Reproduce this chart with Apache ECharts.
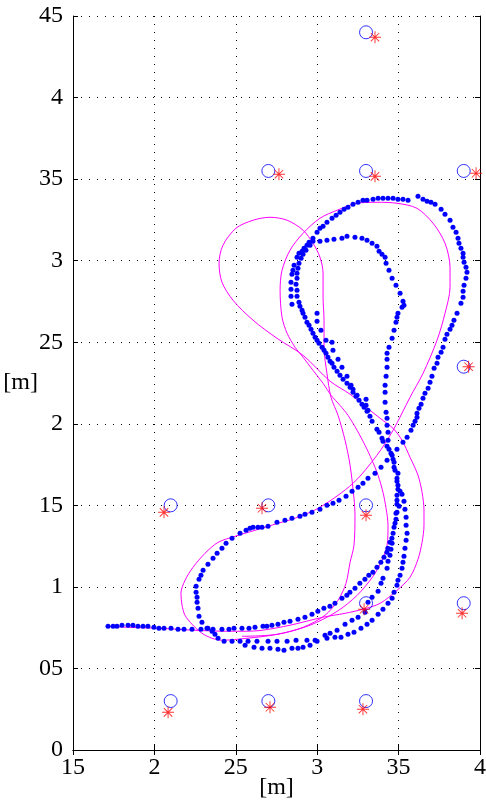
<!DOCTYPE html>
<html><head><meta charset="utf-8">
<script src="https://cdn.jsdelivr.net/npm/echarts/dist/echarts.min.js"></script>
<style>html,body{margin:0;padding:0;background:#fff}#c{width:486px;height:801px}</style>
</head><body><div id="c"></div>
<script>
const xTickLabels = ['15','2','25','3','35','4'];
const yTickLabels = ['0','05','1','15','2','25','3','35','4','45'];

// blue open circles (anchors)
const anchors = [[3.3,4.4],[2.7,3.55],[3.3,3.55],[3.9,3.55],[3.9,2.35],[2.1,1.5],[2.7,1.5],[3.3,1.5],[3.3,0.9],[3.9,0.9],[2.1,0.3],[2.7,0.3],[3.3,0.3]];
// red asterisks (estimates)
const estimates = [[3.355,4.37],[2.765,3.53],[3.355,3.517],[3.976,3.536],[3.93,2.35],[2.059,1.457],[2.661,1.482],[3.30,1.439],[3.288,0.863],[3.89,0.838],[2.084,0.231],[2.71,0.262],[3.281,0.25]];

// measured trajectory (blue dots)
const tailDots = [[1.715,0.758],[1.746,0.758],[1.770,0.758],[1.801,0.765],[1.838,0.765],[1.868,0.765],[1.899,0.758],[1.930,0.758],[1.960,0.758],[1.997,0.752],[2.028,0.746],[2.059,0.746],[2.102,0.746],[2.145,0.740],[2.182,0.740],[2.231,0.740],[2.286,0.740],[2.329,0.746],[2.360,0.740],[2.415,0.740],[2.458,0.740],[2.489,0.746],[2.538,0.746],[2.581,0.746],[2.618,0.752],[2.667,0.758],[2.691,0.758],[2.722,0.765],[2.759,0.771],[2.796,0.783],[2.833,0.789],[2.882,0.801],[2.925,0.814],[2.968,0.832],[3.004,0.850],[3.041,0.869],[3.078,0.881],[3.109,0.899],[3.152,0.930],[3.182,0.948],[3.201,0.967],[3.232,0.991],[3.262,1.022],[3.293,1.047],[3.317,1.071],[3.342,1.089],[3.367,1.120],[3.391,1.151],[3.410,1.181],[3.428,1.212],[3.434,1.237],[3.447,1.273],[3.459,1.298]];
const lowerLoopDots = [[3.613,2.040],[3.601,2.015],[3.589,1.991],[3.576,1.960],[3.552,1.917],[3.527,1.887],[3.490,1.844],[3.460,1.807],[3.429,1.776],[3.392,1.733],[3.355,1.696],[3.312,1.666],[3.281,1.635],[3.251,1.611],[3.214,1.586],[3.177,1.555],[3.134,1.531],[3.097,1.513],[3.060,1.500],[3.017,1.476],[2.968,1.457],[2.925,1.445],[2.894,1.433],[2.845,1.421],[2.802,1.408],[2.753,1.396],[2.698,1.371],[2.661,1.365],[2.636,1.365],[2.606,1.365],[2.587,1.359],[2.563,1.347],[2.526,1.329],[2.477,1.298],[2.440,1.267],[2.415,1.237],[2.385,1.206],[2.360,1.175],[2.329,1.139],[2.299,1.102],[2.286,1.071],[2.274,1.047],[2.256,1.004],[2.256,0.967],[2.262,0.936],[2.262,0.906],[2.268,0.869],[2.274,0.820],[2.292,0.783],[2.323,0.746],[2.354,0.728],[2.372,0.709],[2.391,0.685]];
const bottomInnerDots = [[2.428,0.666],[2.477,0.666],[2.526,0.666],[2.575,0.666],[2.630,0.666],[2.698,0.666],[2.753,0.666],[2.815,0.666],[2.870,0.673],[2.937,0.673],[2.987,0.673],[3.048,0.703],[3.079,0.716],[3.122,0.734],[3.171,0.771],[3.214,0.795],[3.251,0.814],[3.294,0.844],[3.312,0.906],[3.337,0.936],[3.374,0.973],[3.392,1.022],[3.404,1.053],[3.429,1.114],[3.435,1.157],[3.447,1.194],[3.453,1.230],[3.460,1.267]];
const bottomOuterDots = [[2.557,0.642],[2.612,0.630],[2.661,0.624],[2.710,0.624],[2.759,0.617],[2.796,0.611],[2.845,0.624],[2.882,0.624],[2.913,0.630],[2.956,0.642],[2.999,0.666],[3.060,0.685],[3.109,0.691],[3.146,0.691],[3.189,0.709],[3.226,0.722],[3.269,0.746],[3.306,0.771],[3.337,0.795],[3.374,0.832],[3.404,0.863],[3.435,0.899],[3.460,0.930],[3.472,0.967],[3.490,1.010],[3.496,1.040],[3.509,1.071],[3.521,1.114],[3.527,1.151],[3.533,1.188],[3.539,1.237],[3.546,1.286],[3.552,1.329],[3.546,1.378],[3.546,1.427],[3.539,1.476],[3.533,1.525],[3.521,1.568]];
const centreDots = [[3.466,1.329],[3.472,1.365],[3.484,1.414],[3.490,1.457],[3.490,1.506],[3.490,1.531],[3.490,1.562],[3.496,1.598],[3.496,1.623],[3.490,1.647],[3.490,1.666],[3.478,1.715],[3.472,1.733],[3.472,1.764],[3.466,1.782],[3.453,1.819],[3.441,1.844],[3.429,1.862],[3.404,1.893],[3.398,1.911],[3.380,1.948],[3.367,1.966],[3.337,2.015],[3.324,2.046],[3.478,1.390],[3.484,1.451],[3.496,1.696],[3.509,1.586],[3.503,1.494]];
const innerLoopDots = [[3.435,1.899],[3.435,1.948],[3.429,1.991],[3.429,2.034],[3.423,2.070],[3.417,2.132],[3.417,2.193],[3.417,2.236],[3.423,2.291],[3.429,2.346],[3.429,2.395],[3.429,2.432],[3.441,2.469],[3.460,2.524],[3.472,2.573],[3.484,2.622],[3.490,2.653],[3.496,2.677],[3.521,2.714],[3.533,2.726],[3.527,2.751],[3.509,2.800],[3.484,2.849],[3.460,2.892],[3.441,2.941],[3.423,2.984],[3.417,3.021],[3.398,3.039],[3.380,3.058],[3.367,3.088],[3.337,3.107],[3.306,3.125],[3.275,3.137],[3.232,3.143],[3.183,3.149],[3.152,3.137],[3.103,3.131],[3.060,3.125],[3.017,3.119],[2.974,3.119]];
const leftDiagDots = [[2.956,3.094],[2.931,3.064],[2.913,3.039],[2.901,3.015],[2.888,2.984],[2.882,2.953],[2.876,2.923],[2.876,2.892],[2.870,2.855],[2.876,2.818],[2.876,2.782],[2.888,2.745],[2.894,2.720],[2.907,2.696],[2.913,2.677],[2.925,2.653],[2.937,2.622],[2.950,2.604],[2.962,2.579],[2.974,2.555],[2.987,2.530],[2.999,2.512],[3.011,2.494],[3.030,2.469],[3.042,2.451],[3.054,2.432],[3.066,2.408],[3.079,2.383],[3.091,2.371],[3.103,2.346],[3.122,2.322],[3.140,2.297],[3.159,2.273],[3.183,2.248],[3.202,2.224],[3.220,2.193],[3.238,2.169],[3.257,2.144],[3.275,2.119],[3.288,2.101],[3.306,2.077]];
const secondDiagDots = [[2.999,2.677],[2.999,2.628],[3.023,2.573],[3.054,2.512],[3.091,2.500],[3.097,2.451],[3.128,2.395],[3.152,2.346],[3.183,2.291],[3.208,2.236],[3.220,2.211],[3.245,2.175],[3.300,2.150],[3.300,2.113],[3.312,2.083]];
const outerLoopDots = [[2.845,2.733],[2.839,2.782],[2.839,2.825],[2.839,2.867],[2.845,2.916],[2.851,2.941],[2.858,2.972],[2.876,3.021],[2.888,3.045],[2.907,3.058],[2.919,3.076],[2.937,3.094],[2.950,3.113],[2.974,3.137],[2.999,3.174],[3.017,3.199],[3.036,3.211],[3.060,3.235],[3.091,3.260],[3.116,3.278],[3.140,3.297],[3.165,3.315],[3.189,3.327],[3.220,3.346],[3.251,3.358],[3.281,3.370],[3.306,3.370],[3.343,3.376],[3.374,3.382],[3.404,3.382],[3.435,3.382],[3.466,3.382],[3.496,3.376],[3.527,3.376],[3.558,3.370],[3.619,3.395],[3.650,3.376],[3.675,3.364],[3.699,3.358],[3.724,3.346],[3.761,3.315],[3.785,3.284],[3.816,3.248],[3.834,3.205],[3.853,3.174],[3.865,3.137],[3.871,3.107],[3.883,3.076],[3.896,3.045],[3.896,3.021],[3.902,2.990],[3.914,2.959],[3.920,2.929],[3.914,2.892],[3.902,2.849],[3.896,2.812],[3.896,2.775],[3.883,2.739],[3.859,2.677],[3.840,2.634],[3.828,2.604],[3.816,2.579],[3.797,2.549],[3.785,2.518],[3.773,2.469],[3.761,2.438],[3.742,2.408],[3.736,2.371],[3.718,2.340],[3.705,2.291],[3.693,2.254],[3.681,2.218],[3.662,2.187],[3.650,2.156],[3.638,2.119],[3.625,2.095],[3.613,2.064]];

// planned path (magenta line)
const plannedPath = [[1.715,0.758],[1.850,0.752],[2.034,0.746],[2.249,0.734],[2.452,0.728],[2.557,0.728],[2.661,0.734],[2.833,0.765],[3.036,0.814],[3.171,0.838],[3.281,0.863],[3.386,0.899],[3.490,0.979],[3.570,1.059],[3.619,1.169],[3.644,1.273],[3.656,1.378],[3.656,1.470],[3.644,1.580],[3.619,1.685],[3.570,1.795],[3.521,1.899],[3.466,1.972],[3.386,2.034],[3.324,2.083],[3.202,2.181],[3.079,2.261],[2.913,2.420],[2.753,2.524],[2.606,2.635],[2.483,2.757],[2.415,2.868],[2.397,2.984],[2.421,3.094],[2.501,3.199],[2.606,3.248],[2.710,3.266],[2.815,3.248],[2.913,3.187],[2.974,3.107],[3.017,3.021],[3.036,2.923],[3.036,2.775],[3.042,2.634],[3.042,2.469],[3.060,2.309],[3.085,2.162],[3.128,2.052],[3.171,1.899],[3.202,1.746],[3.226,1.543],[3.232,1.439],[3.226,1.255],[3.202,1.151],[3.177,1.022],[3.128,0.918],[3.048,0.826],[2.913,0.752],[2.753,0.709],[2.569,0.685],[2.415,0.673],[2.354,0.685],[2.292,0.716],[2.231,0.771],[2.188,0.826],[2.170,0.887],[2.163,0.961],[2.188,1.040],[2.237,1.120],[2.311,1.206],[2.391,1.273],[2.495,1.310],[2.618,1.347],[2.759,1.390],[2.864,1.421],[3.017,1.488],[3.220,1.635],[3.367,1.807],[3.466,1.960],[3.570,2.162],[3.650,2.309],[3.736,2.512],[3.785,2.677],[3.816,2.837],[3.816,2.959],[3.785,3.107],[3.712,3.229],[3.613,3.321],[3.490,3.352],[3.367,3.358],[3.245,3.352],[3.122,3.309],[3.017,3.260],[2.913,3.168],[2.833,3.064],[2.784,2.941],[2.772,2.818],[2.784,2.653],[2.815,2.555],[2.864,2.469],[2.913,2.408],[2.974,2.328],[3.036,2.248],[3.085,2.175],[3.140,2.113],[3.189,2.052],[3.245,1.960],[3.294,1.868],[3.337,1.776],[3.374,1.684],[3.404,1.580],[3.423,1.482],[3.435,1.378],[3.429,1.255],[3.398,1.163],[3.343,1.065],[3.245,0.948],[3.122,0.850],[2.956,0.765],[2.753,0.709],[2.538,0.697]];

const trackDots = [].concat(tailDots, lowerLoopDots, bottomInnerDots, bottomOuterDots, centreDots, innerLoopDots, leftDiagDots, secondDiagDots, outerLoopDots);

const FONT = "'Liberation Serif', 'DejaVu Serif', serif";
const asteriskPath = 'path://M-0.08,-1L0.08,-1L0.08,1L-0.08,1Z M-1,-0.08L1,-0.08L1,0.08L-1,0.08Z M-0.65,-0.76L0.76,0.65L0.65,0.76L-0.76,-0.65Z M-0.76,0.65L0.65,-0.76L0.76,-0.65L-0.65,0.76Z';

const chart = echarts.init(document.getElementById('c'), null, {renderer: 'canvas'});
const gridDots = {type: [1, 7], color: '#000', width: 1};
const labelStyle = {color: '#000', fontFamily: FONT, fontSize: 24};
chart.setOption({
  animation: false,
  backgroundColor: '#fff',
  grid: {left: 73, right: 6, top: 16, bottom: 51, containLabel: false, outerBoundsMode: 'none'},
  xAxis: [{
    type: 'value', min: 1.5, max: 4, interval: 0.5,
    axisLine: {show: true, lineStyle: {color: '#000', width: 1}},
    axisTick: {show: true, inside: true, length: 5, lineStyle: {color: '#000'}},
    axisLabel: Object.assign({margin: 6, formatter: v => xTickLabels[Math.round((v - 1.5) / 0.5)]}, labelStyle),
    splitLine: {show: true, lineStyle: gridDots},
    name: '[m]', nameLocation: 'middle', nameGap: 26, nameMoveOverlap: false,
    nameTextStyle: labelStyle
  }, {
    type: 'value', min: 1.5, max: 4, interval: 0.5, position: 'top',
    axisLine: {show: true, lineStyle: {color: '#000', width: 1}},
    axisTick: {show: true, inside: true, length: 5, lineStyle: {color: '#000'}},
    axisLabel: {show: false}, splitLine: {show: false}
  }],
  yAxis: [{
    type: 'value', min: 0, max: 4.5, interval: 0.5,
    axisLine: {show: true, lineStyle: {color: '#000', width: 1}},
    axisTick: {show: true, inside: true, length: 5, lineStyle: {color: '#000'}},
    axisLabel: Object.assign({margin: 10, formatter: v => yTickLabels[Math.round(v / 0.5)]}, labelStyle),
    splitLine: {show: true, lineStyle: gridDots},
    name: '[m]', nameLocation: 'middle', nameGap: 35, nameRotate: 0, nameMoveOverlap: false,
    nameTextStyle: labelStyle
  }, {
    type: 'value', min: 0, max: 4.5, interval: 0.5, position: 'right',
    axisLine: {show: true, lineStyle: {color: '#000', width: 1}},
    axisTick: {show: true, inside: true, length: 5, lineStyle: {color: '#000'}},
    axisLabel: {show: false}, splitLine: {show: false}
  }],
  series: [{
    type: 'line', data: plannedPath, smooth: 0.3, showSymbol: false, z: 2,
    lineStyle: {color: '#ff00ff', width: 1}
  }, {
    type: 'scatter', data: trackDots, symbol: 'circle', symbolSize: 5, z: 3,
    itemStyle: {color: '#0000ff', opacity: 1}
  }, {
    type: 'scatter', data: anchors, symbol: 'circle', symbolSize: 13, z: 4,
    itemStyle: {color: 'transparent', borderColor: '#0000ff', borderWidth: 1}
  }, {
    type: 'scatter', data: estimates, symbol: asteriskPath, symbolSize: 12, z: 5,
    itemStyle: {color: '#ff0000'}
  }]
});
</script>
</body></html>
